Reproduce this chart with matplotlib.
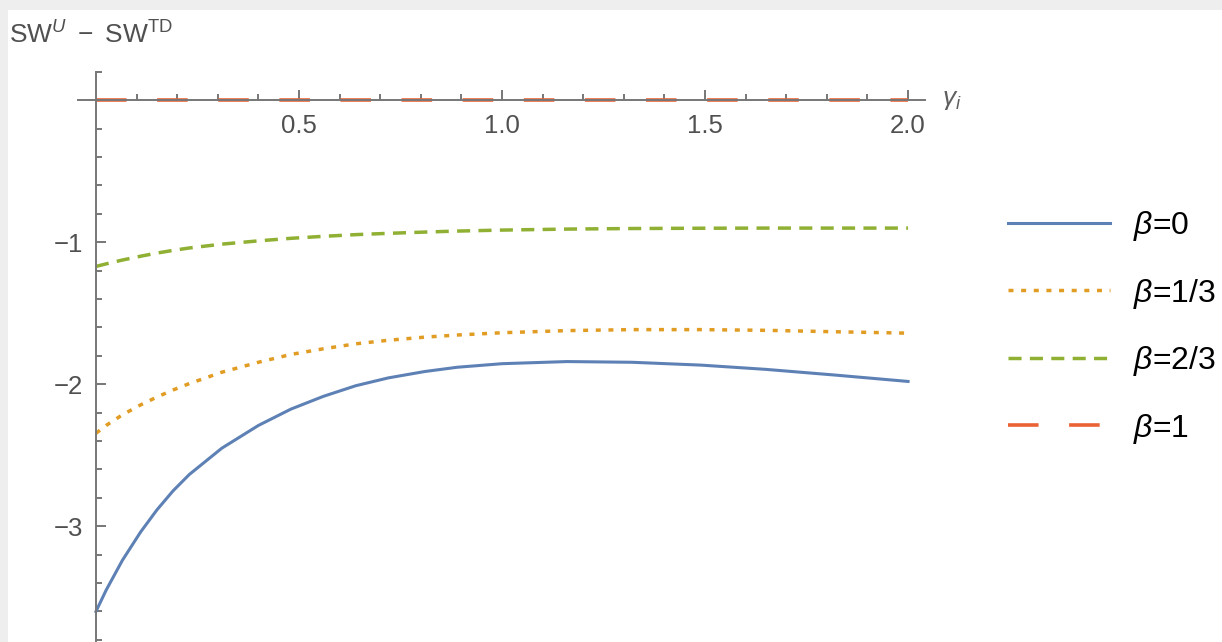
import matplotlib
matplotlib.use("Agg")
import matplotlib.pyplot as plt
from matplotlib.patches import Rectangle

plt.rcParams['font.family'] = ['Liberation Sans', 'DejaVu Sans']
plt.rcParams['mathtext.fontset'] = 'custom'
plt.rcParams['mathtext.rm'] = 'Liberation Sans'
plt.rcParams['mathtext.it'] = 'Liberation Sans:italic'
plt.rcParams['lines.scale_dashes'] = False

# sampled curves
gamma = [0, 0.025, 0.065, 0.11, 0.15, 0.19, 0.23, 0.31, 0.40, 0.48, 0.56,
         0.64, 0.72, 0.81, 0.89, 1.0, 1.16, 1.32, 1.49, 1.65, 1.82, 2.0]
beta0 = [-3.60, -3.45, -3.24, -3.04, -2.885, -2.75, -2.635, -2.45, -2.29, -2.175, -2.085,
         -2.01, -1.955, -1.91, -1.88, -1.855, -1.84, -1.845, -1.865, -1.895, -1.935, -1.98]
beta13 = [-2.345, -2.29, -2.215, -2.145, -2.09, -2.04, -1.995, -1.915, -1.845, -1.79, -1.75,
          -1.715, -1.69, -1.668, -1.653, -1.637, -1.622, -1.615, -1.615, -1.62, -1.63, -1.64]
beta23 = [-1.17, -1.152, -1.125, -1.098, -1.076, -1.057, -1.04, -1.013, -0.99, -0.972, -0.958,
          -0.946, -0.937, -0.928, -0.921, -0.914, -0.907, -0.903, -0.901, -0.90, -0.90, -0.90]
beta1 = [0.0] * len(gamma)
labels = [r'$\beta$=0', r'$\beta$=1/3', r'$\beta$=2/3', r'$\beta$=1']

xticks = [0.5, 1.0, 1.5, 2.0]
yticks = [-1, -2, -3]

fig = plt.figure(figsize=(12.22, 6.42), dpi=100, facecolor='#eeeeee')
fig.patches.append(Rectangle((8 / 1222, 0), 1, (642 - 10) / 642, transform=fig.transFigure,
                             facecolor='white', edgecolor='none', zorder=-5))

ax = fig.add_axes([77.7 / 1222, 0, 847.4 / 1222, 570.1 / 642])
ax.set_facecolor('none')
ax.set_xlim(-0.045, 2.042)
ax.set_ylim(-3.815, 0.2)

ax.plot(gamma, beta0, color='#5e81b5', lw=2.2, label=labels[0], zorder=3)
ax.plot(gamma, beta13, color='#e19c24', lw=2.5, dashes=(3.6, 5.5), label=labels[1], zorder=3)
ax.plot(gamma, beta23, color='#8fb032', lw=2.5, dashes=(9.4, 6.0), label=labels[2], zorder=3)
ax.plot(gamma, beta1, color='#eb6235', lw=2.6, dashes=(22, 22), label=labels[3], zorder=2)

axis_col = '#777777'
for s in ['top', 'right']:
    ax.spines[s].set_visible(False)
ax.spines['left'].set_position(('data', 0))
ax.spines['bottom'].set_position(('data', 0))
for s in ['left', 'bottom']:
    ax.spines[s].set_color(axis_col)
    ax.spines[s].set_linewidth(1.4)
    ax.spines[s].set_zorder(4)

ax.set_xticks(xticks)
ax.set_xticklabels(['0.5', '1.0', '1.5', '2.0'])
ax.set_xticks([i / 10 for i in range(1, 21) if i % 5], minor=True)
ax.set_yticks(yticks)
ax.set_yticks([-3.8, -3.6, -3.4, -3.2, -2.8, -2.6, -2.4, -2.2, -1.8, -1.6, -1.4, -1.2,
               -0.8, -0.6, -0.4, -0.2, 0.2], minor=True)
ax.tick_params(which='both', direction='in', color=axis_col, width=1.4, labelcolor='#505050',
               labelsize=18.5)
ax.tick_params(which='major', length=7.5)
ax.tick_params(which='minor', length=4.5)
ax.tick_params(axis='x', pad=10)
ax.tick_params(axis='y', pad=9)

ax.text(2.083, 0, r'$\gamma_i$', color='#606060', fontsize=19, va='center', ha='left')
fig.text(9 / 1222, 1 - 44 / 642,
         r'$\mathregular{SW}^{U}\ -\ \mathregular{SW}^{\mathregular{TD}}$',
         color='#505050', fontsize=19, va='baseline', ha='left')

fig.legend(loc='upper left', bbox_to_anchor=(1008 / 1222, 1 - 209 / 642), frameon=False,
           fontsize=23, handlelength=3.2, handletextpad=0.72, labelspacing=1.05,
           borderpad=0, borderaxespad=0)

fig.savefig('out.png', dpi=100, facecolor=fig.get_facecolor())
